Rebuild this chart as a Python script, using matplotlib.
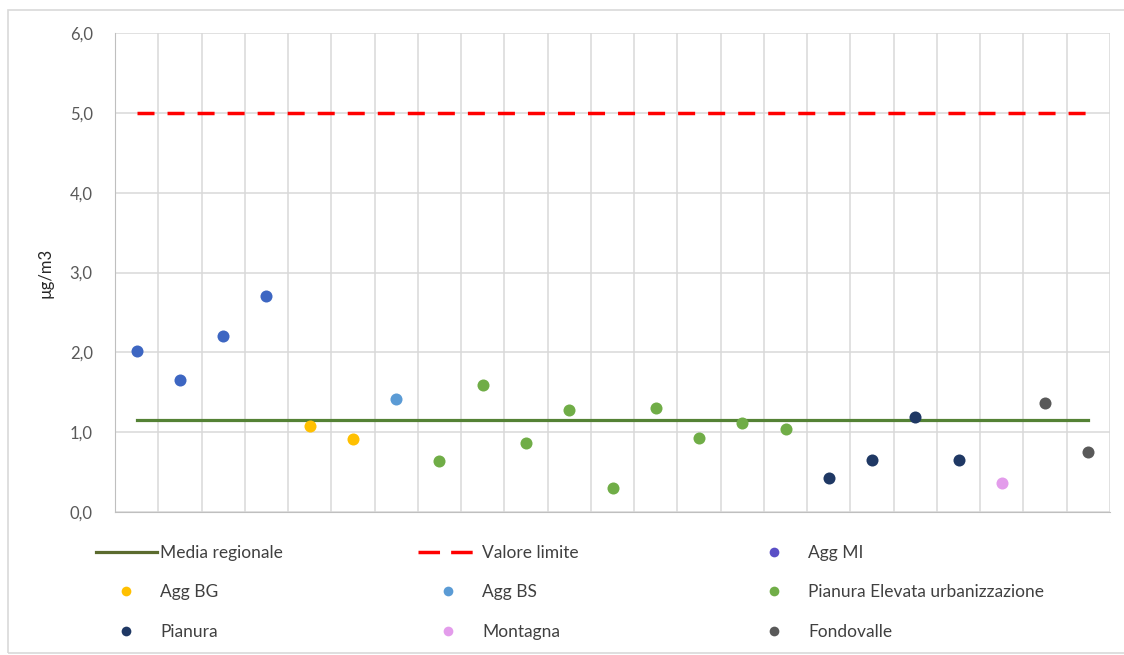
import numpy as np
import matplotlib
matplotlib.use("Agg")
import matplotlib.pyplot as plt
from matplotlib.lines import Line2D
from matplotlib.patches import Rectangle

plt.rcParams['font.family'] = ['Lato', 'DejaVu Sans']

# one value per station, in chart order
valori = [2.02, 1.65, 2.21, 2.71, 1.08, 0.91, 1.41, 0.645, 1.585, 0.86, 1.28,
          0.30, 1.305, 0.925, 1.115, 1.04, 0.42, 0.65, 1.19, 0.65, 0.36, 1.36, 0.75]
gruppi = ['Agg MI'] * 4 + ['Agg BG'] * 2 + ['Agg BS'] + \
         ['Pianura Elevata urbanizzazione'] * 9 + ['Pianura'] * 4 + \
         ['Montagna'] + ['Fondovalle'] * 2
media_regionale = 1.15
valore_limite = 5.0

colori = {
    'Agg MI': '#3D66C2',
    'Agg BG': '#FFC000',
    'Agg BS': '#5B9BD5',
    'Pianura Elevata urbanizzazione': '#70AD47',
    'Pianura': '#1F3864',
    'Montagna': '#E39CEB',
    'Fondovalle': '#595959',
}
colori_legenda = dict(colori, **{'Agg MI': '#5A4FC6'})

n = len(valori)
x = np.arange(n)

fig = plt.figure(figsize=(11.24, 6.55), dpi=100)
W, H = 1124, 655
ax = fig.add_axes([115 / W, 1 - 512 / H, (1110 - 115) / W, (512 - 33) / H])

# cornice esterna
fig.patches.append(Rectangle((8 / W, 2 / H), 1.0, (645 - 2) / H, transform=fig.transFigure,
                             fill=False, edgecolor='#D9D9D9', lw=1.2))

tratteggio = (0, (4.9, 3.75))
grigio = '#D9D9D9'
ax.plot(x, [media_regionale] * n, color='#548235', lw=2.3, zorder=3)
ax.plot(x, [valore_limite] * n, color='#FF0000', lw=2.5, ls=tratteggio, zorder=3)

for g in colori:
    idx = [i for i in range(n) if gruppi[i] == g]
    ax.scatter(x[idx], [valori[i] for i in idx], s=75, color=colori[g], zorder=4, linewidths=0)

ax.set_xlim(-0.5, n - 0.5)
ax.set_ylim(0, 6)
ax.set_yticks(np.arange(0, 6.1, 1))
ax.set_yticklabels([f'{v:.1f}'.replace('.', ',') for v in np.arange(0, 6.1, 1)],
                   color='#595959', fontsize=12)
ax.set_xticks(np.arange(-0.5, n, 1))
ax.set_xticklabels([])
ax.tick_params(length=0, axis='y', pad=16)
ax.tick_params(length=0, axis='x')
ax.grid(True, color=grigio, lw=1.1)
ax.set_axisbelow(True)
for s in ax.spines.values():
    s.set_visible(False)
ax.spines['left'].set_visible(True)
ax.spines['left'].set_color('#BFBFBF')
ax.spines['bottom'].set_visible(True)
ax.spines['bottom'].set_color('#BFBFBF')
ax.set_ylabel('µg/m3', fontsize=12, color='#262626', labelpad=12)

def h_line(c):
    return Line2D([], [], color=c, lw=2.3)

def h_dash():
    return Line2D([], [], color='#FF0000', lw=2.5, ls=(0, (6.2, 3.2)))

def h_dot(g):
    return Line2D([], [], ls='', marker='o', ms=7, mec='none', color=colori_legenda[g])

colonne = [
    (96, [(h_line('#5B6B2E'), 'Media regionale'), (h_dot('Agg BG'), 'Agg BG'), (h_dot('Pianura'), 'Pianura')]),
    (418, [(h_dash(), 'Valore limite'), (h_dot('Agg BS'), 'Agg BS'), (h_dot('Montagna'), 'Montagna')]),
    (744, [(h_dot('Agg MI'), 'Agg MI'), (h_dot('Pianura Elevata urbanizzazione'), 'Pianura Elevata urbanizzazione'),
           (h_dot('Fondovalle'), 'Fondovalle')]),
]
for x0, voci in colonne:
    fig.legend([v[0] for v in voci], [v[1] for v in voci], loc='upper left',
               bbox_to_anchor=(x0 / W, 1 - 545 / H), frameon=False, fontsize=12.5,
               handlelength=3.5, handletextpad=0.2, labelspacing=1.35,
               borderpad=0, borderaxespad=0, labelcolor='#404040')

fig.savefig('out.png', dpi=100)
